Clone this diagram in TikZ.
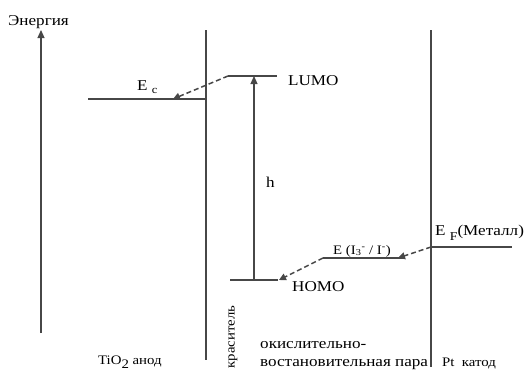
\documentclass[tikz,border=0pt]{standalone}
\usepackage{fontspec}
\setmainfont{Liberation Serif}[FakeStretch=1.14]
\usetikzlibrary{arrows.meta}
\begin{document}
\begin{tikzpicture}[x=1pt,y=-1pt,
  lvl/.style={draw=black!72,line width=1.4pt},
  sep/.style={draw=black!72,line width=1.4pt},
  dsh/.style={draw=black!72,line width=1.5pt,dash pattern=on 5pt off 3pt,-{Triangle[length=7pt,width=7pt]}},
  sol/.style={draw=black!72,line width=1.2pt,-{Triangle[length=8pt,width=7pt]}},
  lbl/.style={inner sep=0pt,font=\fontsize{15}{17}\selectfont,anchor=base west},
  sml/.style={inner sep=0pt,font=\fontsize{13}{15}\selectfont,anchor=base west}]
\useasboundingbox (0,0) rectangle (527,372);
% energy axis
\coordinate (axb) at (41,333);
\coordinate (axt) at (41,30);
\draw[sol] (axb) -- (axt);
\node[lbl] (en) at (8,25) {Энергия};
% separators
\coordinate (s1t) at (206,30); \coordinate (s1b) at (206,360);
\coordinate (s2t) at (431,30); \coordinate (s2b) at (431,367);
\draw[sep] (s1t) -- (s1b);
\draw[sep] (s2t) -- (s2b);
% Ec level
\coordinate (ecl) at (88,99); \coordinate (ecr) at (206,99);
\coordinate (ect) at (173,99);
\draw[lvl] (ecl) -- (ecr);
\node[lbl] (ec) at (137,90) {E \raisebox{-3pt}{\fontsize{11}{11}\selectfont c}};
% LUMO
\coordinate (lul) at (228,76); \coordinate (lur) at (277,76);
\draw[lvl] (lul) -- (lur);
\node[lbl] (lumo) at (288,85) {LUMO};
\draw[dsh] (lul) -- (ect);
% HOMO
\coordinate (hol) at (230,280); \coordinate (hor) at (278,280);
\coordinate (hot) at (279,280);
\draw[lvl] (hol) -- (hor);
\node[lbl] (homo) at (292,291) {HOMO};
% excitation
\coordinate (ab) at (254,280); \coordinate (at) at (254,76);
\draw[sol] (ab) -- (at);
\node[lbl] (h) at (266,187) {h};
% redox level
\coordinate (rl) at (323,258); \coordinate (rr) at (405,258);
\coordinate (rt) at (398,258);
\draw[lvl] (rl) -- (rr);
\node[sml] (redox) at (333,254) {E (I\textsubscript{3}\textsuperscript{-} / I\textsuperscript{-})};
\draw[dsh] (rl) -- (hot);
% Fermi level
\coordinate (fl) at (431,247); \coordinate (fr) at (512,247);
\draw[lvl] (fl) -- (fr);
\node[lbl] (ef) at (435,235) {E \raisebox{-5pt}{\fontsize{12}{12}\selectfont F}(Металл)};
\draw[dsh] (fl) -- (rt);
% bottom labels
\node[sml] (tio) at (98,364) {TiO\raisebox{-4pt}{2} анод};
\node[sml,rotate=90,anchor=center] (dye) at (233,337) {краситель};
\node[lbl] (ox1) at (260,348) {окислительно-};
\node[lbl] (ox2) at (260,366) {востановительная пара};
\node[sml] (pt) at (442,366) {Pt\ \ катод};
\end{tikzpicture}
\end{document}
